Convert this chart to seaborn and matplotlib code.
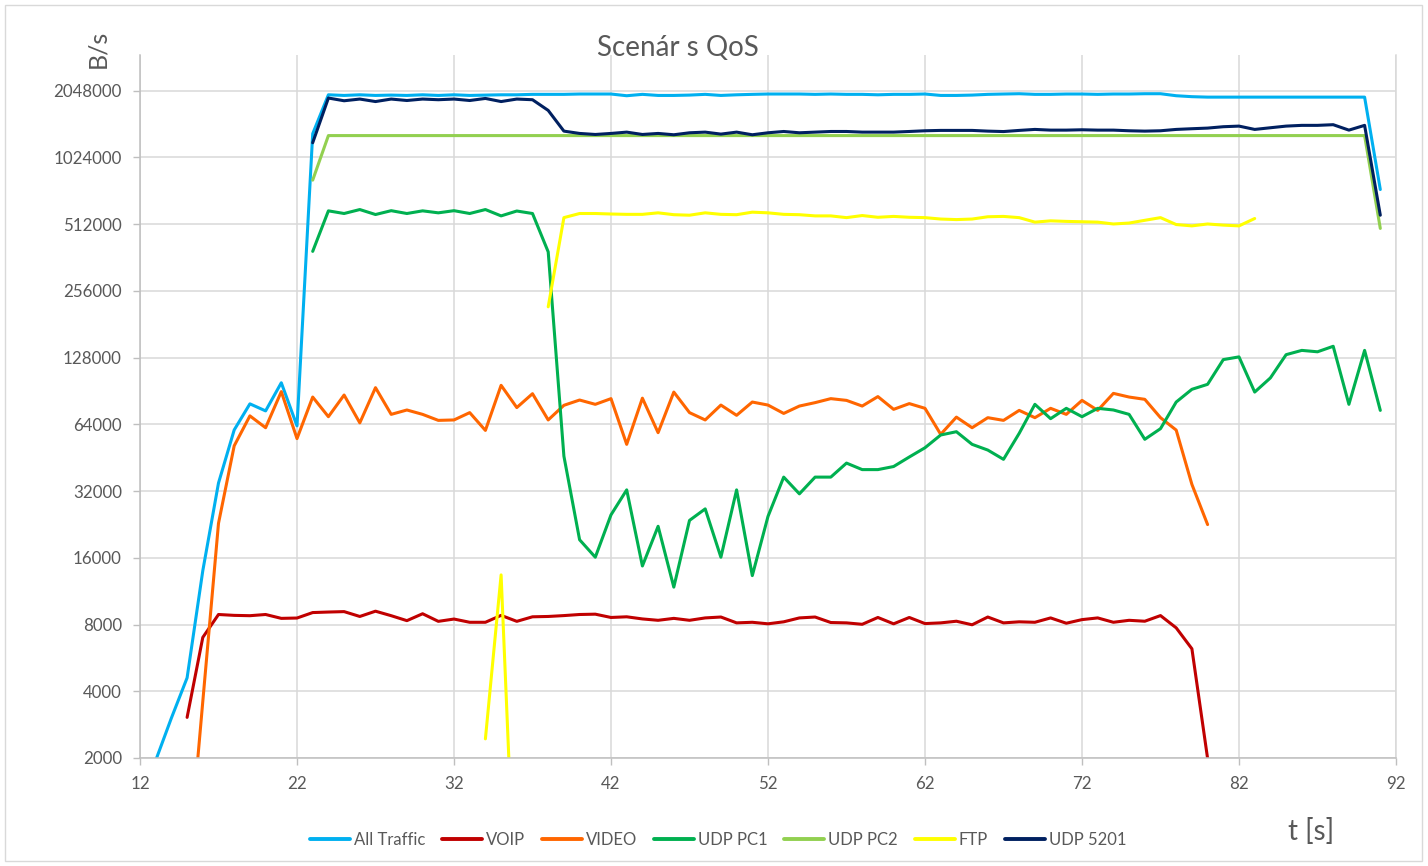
import matplotlib
matplotlib.use('Agg')
import matplotlib.pyplot as plt
from matplotlib.lines import Line2D
from matplotlib.patches import Rectangle
import pandas as pd
import seaborn as sns

sns.set_theme(style='white')
plt.rcParams['font.family'] = ['Lato', 'DejaVu Sans']

N = None
t_sec = list(range(13, 92))

all_traffic = [1950, 3030, 4600, 14000, 34800, 60400, 79200, 73600, 98600, 63000,
               1310000, 1963000, 1950000, 1963000, 1950000, 1957000, 1950000, 1963000, 1950000, 1963000,
               1950000, 1957000, 1963000, 1963000, 1972000, 1972000, 1972000, 1979000, 1979000, 1979000,
               1944000, 1972000, 1950000, 1950000, 1957000, 1972000, 1950000, 1963000, 1972000, 1979000,
               1979000, 1979000, 1972000, 1979000, 1972000, 1972000, 1963000, 1972000, 1972000, 1979000,
               1950000, 1950000, 1957000, 1972000, 1979000, 1985000, 1972000, 1972000, 1979000, 1979000,
               1972000, 1979000, 1979000, 1985000, 1985000, 1944000, 1925000, 1916000, 1916000, 1916000,
               1916000, 1916000, 1916000, 1916000, 1916000, 1916000, 1916000, 1916000, 734000]

voip = [N, N, 3050, 7000, 8880, 8800, 8770, 8880, 8530, 8560,
        9060, 9110, 9150, 8700, 9190, 8770, 8330, 8950, 8270, 8470,
        8190, 8190, 8800, 8270, 8670, 8700, 8780, 8880, 8910, 8610,
        8670, 8480, 8360, 8530, 8360, 8570, 8650, 8140, 8190, 8060,
        8230, 8570, 8650, 8170, 8140, 8020, 8610, 8060, 8610, 8080,
        8140, 8280, 7980, 8650, 8140, 8230, 8190, 8570, 8110, 8420,
        8570, 8190, 8360, 8280, 8780, 7730, 6220, 1990, N, N,
        N, N, N, N, N, N, N, N, N]

video = [N, N, 560, 3600, 22900, 51200, 69900, 61800, 89900, 55200,
         85000, 69300, 86800, 65000, 93700, 71000, 74300, 71000, 66700, 67000,
         72300, 60100, 96000, 76200, 88000, 67000, 78000, 82400, 78800, 83600,
         52000, 84000, 58700, 89500, 72300, 67000, 78200, 70300, 80700, 78200,
         71700, 77400, 80200, 83600, 82100, 77400, 85400, 74800, 79400, 75600,
         57700, 69000, 61800, 68600, 66700, 74000, 68600, 75600, 71000, 82100,
         74000, 88300, 85000, 83000, 68600, 60300, 34300, 22600, N, N,
         N, N, N, N, N, N, N, N, N]

udp_pc1 = [N, N, N, N, N, N, N, N, N, N,
           386000, 588000, 572000, 596000, 566000, 589000, 572000, 588000, 576000, 589000,
           572000, 596000, 558000, 587000, 572000, 384000, 46000, 19300, 16100, 25000,
           32400, 14700, 22200, 11800, 23600, 26600, 16100, 32400, 13300, 24600,
           37000, 31100, 37000, 37000, 42800, 40000, 40000, 41300, 45600, 50200,
           57300, 59300, 52000, 49000, 44500, 58300, 78800, 67900, 75600, 69300,
           75600, 74300, 71000, 54800, 61200, 80700, 92100, 97000, 125400, 129000,
           89500, 103700, 132000, 138000, 136000, 144000, 78800, 138000, 74000]

udp_pc2 = [N, N, N, N, N, N, N, N, N, N,
           809000] + [1285000] * 67 + [490000]

ftp = [N] * 21 + [2440, 13400, 280, N,
       217000, 548000, 572000, 572000, 569000, 567000, 567000, 576000, 565000, 562000,
       576000, 567000, 565000, 580000, 576000, 567000, 565000, 558000, 558000, 548000,
       560000, 550000, 555000, 550000, 548000, 540000, 537000, 540000, 553000, 555000,
       548000, 523000, 530000, 527000, 525000, 523000, 513000, 518000, 533000, 548000,
       510000, 503000, 513000, 507000, 503000, 543000] + [N] * 8

udp_5201 = [N, N, N, N, N, N, N, N, N, N,
            1193000, 1898000, 1845000, 1878000, 1830000, 1878000, 1850000, 1878000, 1865000, 1878000,
            1850000, 1890000, 1830000, 1878000, 1865000, 1669000, 1346000, 1314000, 1300000, 1314000,
            1332000, 1300000, 1314000, 1296000, 1323000, 1332000, 1305000, 1332000, 1296000, 1323000,
            1341000, 1323000, 1332000, 1341000, 1341000, 1332000, 1332000, 1332000, 1341000, 1351000,
            1356000, 1356000, 1356000, 1346000, 1340000, 1356000, 1370000, 1360000, 1360000, 1365000,
            1360000, 1360000, 1351000, 1346000, 1351000, 1370000, 1380000, 1389000, 1409000, 1418000,
            1370000, 1394000, 1418000, 1429000, 1429000, 1439000, 1360000, 1429000, 562000]

series_names = ['All Traffic', 'VOIP', 'VIDEO', 'UDP PC1', 'UDP PC2', 'FTP', 'UDP 5201']
series_values = [all_traffic, voip, video, udp_pc1, udp_pc2, ftp, udp_5201]
series_colors = ['#00B0F0', '#C00000', '#FF6600', '#00B050', '#92D050', '#FFFF00', '#002060']

y_ticks = [2000, 4000, 8000, 16000, 32000, 64000, 128000, 256000, 512000, 1024000, 2048000]
x_ticks = [12, 22, 32, 42, 52, 62, 72, 82, 92]

# long-form table, with a segment id so that gaps stay gaps
rows = []
for name, vals in zip(series_names, series_values):
    seg = 0
    prev_none = False
    for t, v in zip(t_sec, vals):
        if v is None:
            prev_none = True
            continue
        if prev_none:
            seg += 1
            prev_none = False
        rows.append({'t': t, 'value': v, 'series': name, 'seg': f'{name}_{seg}'})
df = pd.DataFrame(rows)

W, H = 1428, 866
fig = plt.figure(figsize=(W / 100, H / 100), dpi=100)
ax = fig.add_axes([140 / W, (H - 758) / H, (1396 - 140) / W, (758 - 55) / H])

palette = dict(zip(series_names, series_colors))
sns.lineplot(data=df, x='t', y='value', hue='series', units='seg', estimator=None,
             palette=palette, hue_order=series_names, linewidth=2.2, legend=False,
             sort=False, ax=ax)

ax.set_yscale('log', base=2)
ax.set_ylim(2000, 2048000 * 2 ** (35.7 / 66.7))
ax.set_xlim(12, 92)
ax.set_yticks(y_ticks)
ax.set_yticklabels([str(v) for v in y_ticks])
ax.minorticks_off()
ax.set_xticks(x_ticks)
ax.set_xticklabels([str(v) for v in x_ticks])
ax.set_xlabel('')
ax.set_ylabel('')

ax.grid(True, color='#D9D9D9', linewidth=1.1)
ax.set_axisbelow(True)
ax.spines['top'].set_visible(False)
ax.spines['right'].set_color('#D9D9D9')
ax.spines['right'].set_linewidth(1.1)
for s in ['left', 'bottom']:
    ax.spines[s].set_color('#BFBFBF')
    ax.spines[s].set_linewidth(1.1)
ax.tick_params(axis='both', which='major', length=5, width=1, color='#BFBFBF',
               labelcolor='#595959', labelsize=12.2, pad=8, left=True, bottom=True)

txt = '#595959'
fig.text(678 / W, 1 - 48 / H, 'Scenár s QoS', ha='center', va='center', fontsize=20, color=txt)
fig.text(98 / W, 1 - 49 / H, 'B/s', ha='center', va='center', rotation=90, fontsize=18, color=txt)
fig.text(1311 / W, 1 - 832 / H, 't [s]', ha='center', va='center', fontsize=20, color=txt)

handles = [Line2D([0], [0], color=c, lw=2.8) for c in series_colors]
fig.legend(handles, series_names, loc='center', bbox_to_anchor=(718 / W, 1 - 840 / H),
           ncol=7, frameon=False, handlelength=2.4, handletextpad=0.25,
           columnspacing=1.0, fontsize=12, labelcolor=txt)

fig.add_artist(Rectangle((5 / W, 5 / H), (1422 - 5) / W, (861 - 5) / H,
                         transform=fig.transFigure, fill=False, ec='#D9D9D9', lw=1))

fig.savefig('out.png', dpi=100)
